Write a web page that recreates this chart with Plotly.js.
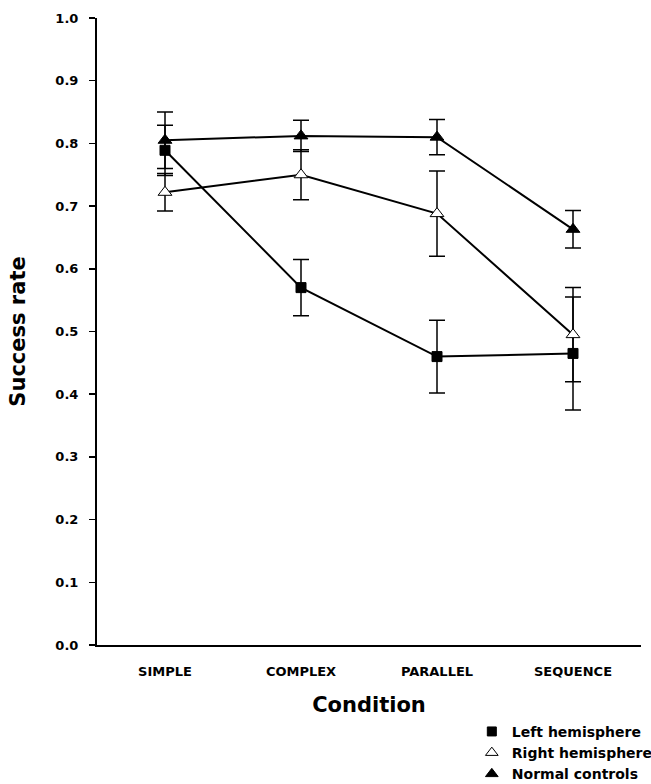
<!DOCTYPE html>
<html>
<head>
<meta charset="utf-8">
<script src="https://cdn.plot.ly/plotly-3.0.1.min.js"></script>
<style>html,body{margin:0;padding:0;background:#fff;}#chart{width:651px;height:784px;}</style>
</head>
<body>
<div id="chart"></div>
<script>
var categories = ['SIMPLE', 'COMPLEX', 'PARALLEL', 'SEQUENCE'];
var leftHemisphere = [0.789, 0.570, 0.460, 0.465];
var leftHemisphereErr = [0.040, 0.045, 0.058, 0.090];
var rightHemisphere = [0.722, 0.750, 0.688, 0.495];
var rightHemisphereErr = [0.030, 0.040, 0.068, 0.075];
var normalControls = [0.805, 0.812, 0.810, 0.663];
var normalControlsErr = [0.045, 0.025, 0.028, 0.030];
var seriesNames = ['Left hemisphere', 'Right hemisphere', 'Normal controls'];
var yTickVals = [0.0, 0.1, 0.2, 0.3, 0.4, 0.5, 0.6, 0.7, 0.8, 0.9, 1.0];

var FONT = 'DejaVu Sans, Liberation Sans, Arial, sans-serif';
var xIdx = categories.map(function (c, i) { return i; });

function seriesTrace(vals, errs, symbol, fill) {
  return {
    x: xIdx, y: vals, type: 'scatter', mode: 'lines+markers', showlegend: false,
    line: {color: '#000', width: 2},
    marker: {symbol: symbol, size: symbol === 'square' ? 10 : 12, color: fill, line: {color: '#000', width: 1}},
    error_y: {type: 'data', array: errs, visible: true, color: '#000', thickness: 1.5, width: 8}
  };
}
function legendTrace(name, symbol, fill) {
  return {
    x: [null], y: [null], type: 'scatter', mode: 'markers', name: name,
    marker: {symbol: symbol, size: symbol === 'square' ? 9 : 11, color: fill, line: {color: '#000', width: 1}}
  };
}

var data = [
  seriesTrace(leftHemisphere, leftHemisphereErr, 'square', '#000'),
  seriesTrace(rightHemisphere, rightHemisphereErr, 'triangle-up', '#fff'),
  seriesTrace(normalControls, normalControlsErr, 'triangle-up', '#000'),
  legendTrace(seriesNames[0], 'square', '#000'),
  legendTrace(seriesNames[1], 'triangle-up', '#fff'),
  legendTrace(seriesNames[2], 'triangle-up', '#000')
];

var layout = {
  width: 651, height: 784,
  margin: {l: 97, r: 10, t: 18, b: 139, autoexpand: false},
  paper_bgcolor: '#fff', plot_bgcolor: '#fff',
  font: {family: FONT, color: '#000', size: 13, weight: 'bold'},
  showlegend: true,
  legend: {
    x: 0.689, y: -0.113, xanchor: 'left', yanchor: 'top',
    font: {family: FONT, size: 14, color: '#000', weight: 'bold'},
    bgcolor: 'rgba(0,0,0,0)', itemwidth: 30, tracegroupgap: 0
  },
  xaxis: {
    range: [-0.5, 3.5], tickmode: 'array', tickvals: xIdx, ticktext: categories,
    showgrid: false, zeroline: false, showline: true, linecolor: '#000', linewidth: 2,
    ticks: '', ticklen: 0, ticklabelstandoff: 13, automargin: false,
    tickfont: {family: FONT, size: 13, color: '#000', weight: 'bold'},
    title: {text: 'Condition', font: {family: FONT, size: 21, color: '#000', weight: 'bold'}, standoff: 20},
    fixedrange: true
  },
  yaxis: {
    range: [0, 1], tickmode: 'array', tickvals: yTickVals, tickformat: '.1f',
    showgrid: false, zeroline: false, showline: true, linecolor: '#000', linewidth: 2,
    ticks: 'outside', ticklen: 6, tickwidth: 1.5, tickcolor: '#000', ticklabelstandoff: 8, automargin: false,
    tickfont: {family: FONT, size: 13, color: '#000', weight: 'bold'},
    title: {text: 'Success rate', font: {family: FONT, size: 21, color: '#000', weight: 'bold'}, standoff: 24},
    fixedrange: true
  }
};

Plotly.newPlot('chart', data, layout, {displayModeBar: false, staticPlot: true});
</script>
</body>
</html>
